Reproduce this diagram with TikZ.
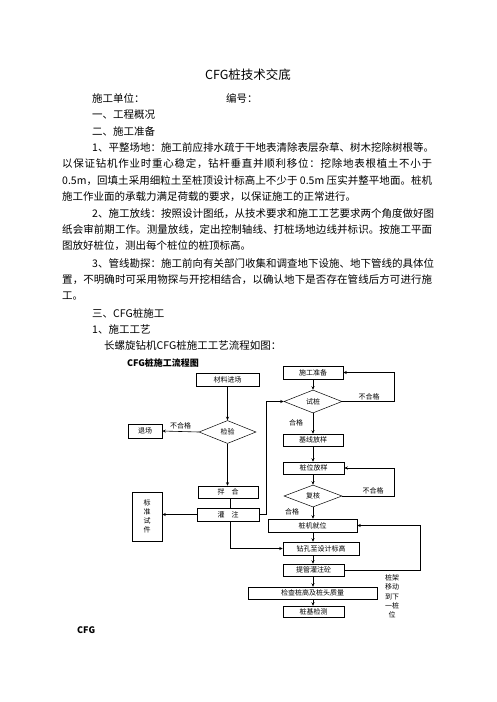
\documentclass[tikz,border=0pt]{standalone}
\usepackage{fontspec}
\setmainfont{Noto Sans CJK SC}
\newfontfamily\fcfont[LetterSpace=15]{Noto Sans CJK SC}
\usetikzlibrary{shapes.geometric,arrows.meta}
\newXeTeXintercharclass\cjkcls
\makeatletter
\count@="3000
\loop \XeTeXcharclass\count@=\cjkcls \advance\count@\@ne \ifnum\count@<"3040 \repeat
\count@="4E00
\loop \XeTeXcharclass\count@=\cjkcls \advance\count@\@ne \ifnum\count@<"A000 \repeat
\count@="FF00
\loop \XeTeXcharclass\count@=\cjkcls \advance\count@\@ne \ifnum\count@<"FFF0 \repeat
\makeatother
\XeTeXinterchartoks\cjkcls\cjkcls={\hskip0pt plus 1pt\relax}
\XeTeXinterchartoks\cjkcls 0={\hskip0pt plus 1pt\relax}
\XeTeXinterchartoks 0\cjkcls={\hskip0pt plus 1pt\relax}
\XeTeXinterchartokenstate=1
\newcommand\jlw[2]{\hbox to #1pt{#2}}
\tikzset{
  txt/.style={anchor=west,inner sep=0pt,font=\fontsize{10.5}{12}\selectfont},
  fbox/.style={draw,line width=0.5pt,inner sep=0pt,font=\fcfont\fontsize{7}{8}\selectfont},
  fdia/.style={draw,diamond,line width=0.5pt,inner sep=0pt,font=\fcfont\fontsize{7}{8}\selectfont},
  lab/.style={inner sep=0pt,font=\fcfont\fontsize{7}{8}\selectfont},
  conn/.style={line width=0.6pt},
  arr/.style={line width=0.6pt,-{Stealth[length=3.5pt,width=3pt]}}
}
\begin{document}
\begin{tikzpicture}[x=1pt,y=-1pt]
\useasboundingbox[fill=white] (0,0) rectangle (496,702);
% title and text
\node[inner sep=0pt,font=\fontsize{12.5}{14}\selectfont] (title) at (248,75) {CFG桩技术交底};
\node[txt] (t1) at (92,98) {施工单位：};
\node[txt] (t1b) at (226,98) {编号：};
\node[txt] (t2) at (92,115) {一、工程概况};
\node[txt] (t3) at (92,131) {二、施工准备};
\node[txt] (t4) at (92,148) {\jlw{340}{1、平整场地：施工前应排水疏于干地表清除表层杂草、树木挖除树根等。}};
\node[txt] (t5) at (62,164) {\jlw{370}{以保证钻机作业时重心稳定，钻杆垂直并顺利移位：挖除地表根植土不小于}};
\node[txt] (t6) at (62,181) {\jlw{370}{0.5m，回填土采用细粒土至桩顶设计标高上不少于 0.5m 压实并整平地面。桩机}};
\node[txt] (t7) at (62,197) {施工作业面的承载力满足荷载的要求，以保证施工的正常进行。};
\node[txt] (t8) at (92,214) {\jlw{340}{2、施工放线：按照设计图纸，从技术要求和施工工艺要求两个角度做好图}};
\node[txt] (t9) at (62,230) {\jlw{370}{纸会审前期工作。测量放线，定出控制轴线、打桩场地边线并标识。按施工平面}};
\node[txt] (t10) at (62,246) {图放好桩位，测出每个桩位的桩顶标高。};
\node[txt] (t11) at (92,263) {\jlw{340}{3、管线勘探：施工前向有关部门收集和调查地下设施、地下管线的具体位}};
\node[txt] (t12) at (62,280) {\jlw{370}{置，不明确时可采用物探与开挖相结合，以确认地下是否存在管线后方可进行施}};
\node[txt] (t13) at (62,296) {工。};
\node[txt] (t14) at (92,313) {三、CFG桩施工};
\node[txt] (t15) at (92,329) {1、施工工艺};
\node[txt] (t16) at (104,345) {长螺旋钻机CFG桩施工工艺流程如图：};
% flowchart
\node[inner sep=0pt,font=\bfseries\fontsize{9}{10}\selectfont] (fctitle) at (163,363) {CFG桩施工流程图};
\node[fbox,minimum width=63pt,minimum height=13pt] (clcl) at (227.5,379.5) {材料进场};
\node[fdia,minimum width=57pt,minimum height=23pt] (jy) at (227.5,432) {检验};
\node[fbox,minimum width=34pt,minimum height=14pt] (tc) at (145,431) {退场};
\node[fbox,minimum width=60pt,minimum height=12pt] (bh) at (228,492) {拌\quad 合};
\node[fbox,minimum width=62pt,minimum height=13pt] (gz) at (228,514.5) {灌\quad 注};
\node[fbox,minimum width=30pt,minimum height=49pt,align=center,font=\fcfont\fontsize{7}{9}\selectfont] (bzsj) at (147,516.5) {标\\准\\试\\件};
\node[fbox,minimum width=60pt,minimum height=13pt] (sgzb) at (313,372.5) {施工准备};
\node[fdia,minimum width=58pt,minimum height=23pt] (sz) at (313,401.5) {试桩};
\node[fbox,minimum width=60pt,minimum height=12pt] (jxfy) at (313,440) {基线放样};
\node[fbox,minimum width=61pt,minimum height=12pt] (zwfy) at (313.5,468) {桩位放样};
\node[fdia,minimum width=58pt,minimum height=22pt] (fh) at (313,496) {复核};
\node[fbox,minimum width=89pt,minimum height=13pt] (zjjw) at (312.5,525.5) {桩机就位};
\node[fbox,minimum width=76pt,minimum height=13pt] (zk) at (321,548.5) {钻孔至设计标高};
\node[fbox,minimum width=61pt,minimum height=12pt] (tg) at (313.5,570) {提管灌注砼};
\node[fbox,minimum width=129pt,minimum height=12pt] (jc) at (312.5,593) {检查桩高及桩头质量};
\node[fbox,minimum width=61pt,minimum height=11pt] (zjjc) at (313.5,611.5) {桩基检测};
\node[lab,align=center,font=\fcfont\fontsize{7}{9.3}\selectfont] (yd) at (392,596.5) {桩架\\移动\\到下\\一桩\\位};
% connectors
\draw[arr] (clcl.south) -- (jy.north);
\draw[arr] (jy.west) -- (tc.east) node[lab,midway,above=2pt] (l1) {不合格};
\draw[arr] (jy.south) -- (jy.south |- bh.north);
\draw[conn] (bh.south -| 230,0) -- (gz.north -| 230,0);
\draw[arr] (gz.west) -- (bzsj.east |- gz.west);
\draw[arr] (gz.east) -- ++(7,0) |- (sz.west);
\draw[arr] (gz.south -| 230,0) |- (zk.west);
\draw[arr] (sgzb.south) -- (sz.north);
\coordinate (r1) at (394,401.5);
\draw[arr] (sz.east) -- (r1) |- (sgzb.east);
\node[lab] (l2) at (369,397) {不合格};
\draw[arr] (sz.south) -- (jxfy.north);
\node[lab] (l3) at (296,423) {合格};
\draw[arr] (jxfy.south) -- (jxfy.south |- zwfy.north);
\draw[arr] (zwfy.south -| fh.south) -- (fh.north);
\coordinate (r2) at (394,496);
\draw[arr] (fh.east) -- (r2) |- (zwfy.east);
\node[lab] (l4) at (373,491) {不合格};
\draw[arr] (fh.south) -- (fh.south |- zjjw.north);
\node[lab] (l5) at (292,512) {合格};
\draw[arr] (zjjw.south -| fh.south) -- (fh.south |- zk.north);
\draw[arr] (zk.south -| fh.south) -- (fh.south |- tg.north);
\coordinate (r3) at (420,570);
\draw[arr] (tg.east) -- (r3) |- (zjjw.east);
\draw[arr] (tg.south -| fh.south) -- (fh.south |- jc.north);
\draw[arr] (jc.south -| fh.south) -- (fh.south |- zjjc.north);
\node[inner sep=0pt,anchor=west,font=\bfseries\fontsize{9}{10}\selectfont] (cfg) at (77,630) {CFG};
\end{tikzpicture}
\end{document}
